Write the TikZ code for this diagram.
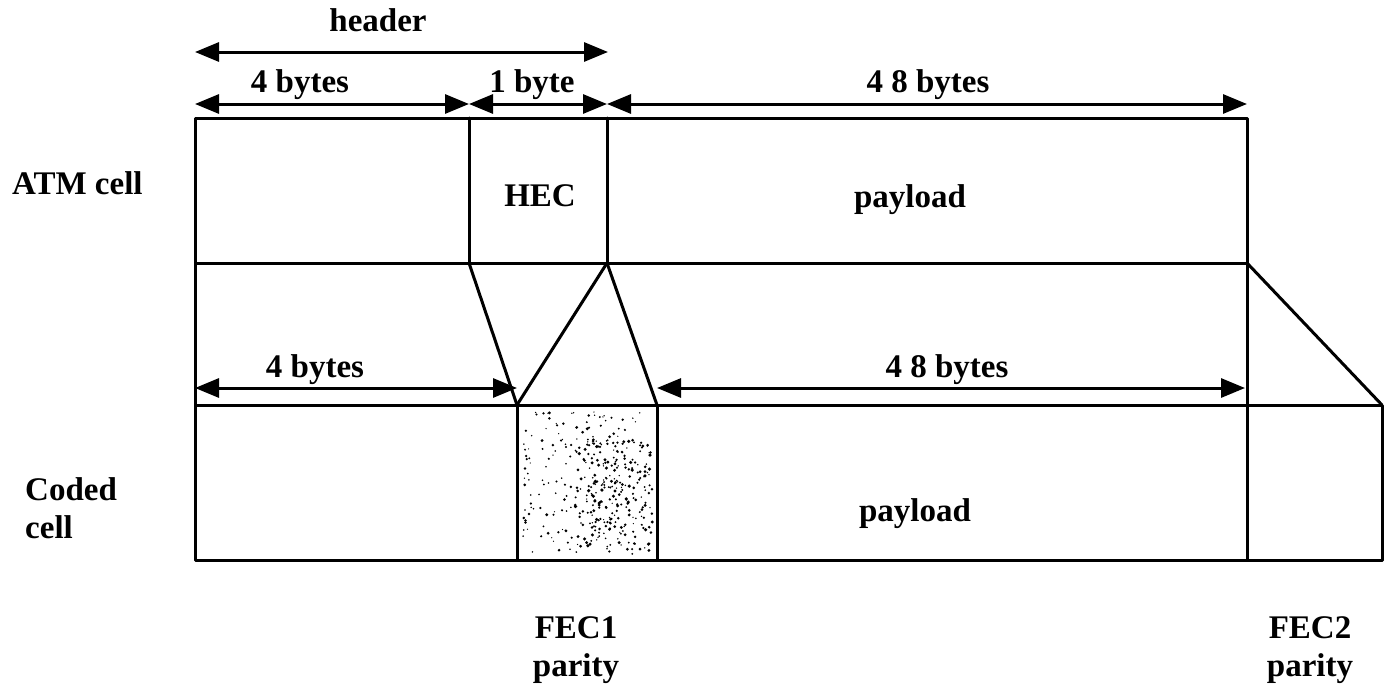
\documentclass[tikz,border=0pt]{standalone}
\usepackage{fontspec}
\setmainfont{Liberation Serif}
\usetikzlibrary{arrows.meta}
\begin{document}
\begin{tikzpicture}[x=1pt,y=-1pt,
  lbl/.style={font=\fontsize{33}{38}\selectfont\bfseries, inner sep=0pt},
  frame/.style={line width=3pt, line cap=round, line join=round},
  dimline/.style={line width=3pt, {Triangle[length=24pt,width=19pt]}-{Triangle[length=24pt,width=19pt]}},
]
\useasboundingbox (0,0) rectangle (1386,696);
% geometry
\coordinate (tl) at (195,118);
\coordinate (tr) at (1247,118);
\coordinate (ml) at (195,263);
\coordinate (mr) at (1247,263);
\coordinate (d1t) at (469,118);
\coordinate (d1b) at (469,263);
\coordinate (d2t) at (607,118);
\coordinate (d2b) at (607,263);
\coordinate (bl) at (195,405);
\coordinate (br) at (1382,405);
\coordinate (bbl) at (195,560);
\coordinate (bbr) at (1382,560);
\coordinate (e1t) at (517,405);
\coordinate (e1b) at (517,560);
\coordinate (e2t) at (657,405);
\coordinate (e2b) at (657,560);
\coordinate (e3t) at (1247,405);
\coordinate (e3b) at (1247,560);
% stipple in FEC1 parity
\pgfmathsetseed{11}
\foreach \i in {1,...,200}{
  \pgfmathsetmacro\px{523+128*rnd}
  \pgfmathsetmacro\py{412+142*rnd}
  \pgfmathsetmacro\rr{0.6+1.0*rnd}
  \fill (\px,\py) circle (\rr pt);
}
\foreach \i in {1,...,200}{
  \pgfmathsetmacro\px{575+78*rnd}
  \pgfmathsetmacro\py{440+110*rnd}
  \pgfmathsetmacro\rr{0.7+1.1*rnd}
  \fill (\px,\py) circle (\rr pt);
}
% ATM cell
\draw[frame] (tl) -- (tr) -- (mr) -- (ml) -- cycle;
\draw[frame] (d1t) -- (d1b);
\draw[frame] (d2t) -- (d2b);
% connecting band
\draw[frame] (ml) -- (bl);
\draw[frame] (mr) -- (e3t);
\draw[frame] (d1b) -- (e1t);
\draw[frame] (d2b) -- (e1t);
\draw[frame] (d2b) -- (e2t);
\draw[frame] (mr) -- (br);
% coded cell
\draw[frame] (bl) -- (br) -- (bbr) -- (bbl) -- cycle;
\draw[frame] (e1t) -- (e1b);
\draw[frame] (e2t) -- (e2b);
\draw[frame] (e3t) -- (e3b);
% dimension arrows
\coordinate (h0) at (195,52);
\coordinate (h1) at (608,52);
\coordinate (r0) at (195,104);
\coordinate (r1) at (469,104);
\coordinate (r2) at (607,104);
\coordinate (r3) at (1247,104);
\coordinate (m0) at (195,388);
\coordinate (m1) at (517,388);
\coordinate (m2) at (657,388);
\coordinate (m3) at (1245,388);
\draw[dimline] (h0) -- (h1);
\draw[dimline] (r0) -- (r1);
\draw[dimline] (r1) -- (r2);
\draw[dimline] (r2) -- (r3);
\draw[dimline] (m0) -- (m1);
\draw[dimline] (m2) -- (m3);
% labels
\node[lbl] (header) at (378,20) {header};
\node[lbl] (b4) at (300,85) {4 bytes};
\node[lbl] (b1) at (532,85) {1 byte};
\node[lbl] (b48) at (928,85) {4 8 bytes};
\node[lbl] (mb4) at (315,370) {4 bytes};
\node[lbl] (mb48) at (947,370) {4 8 bytes};
\node[lbl, anchor=west] (atm) at (12,183) {ATM cell};
\node[lbl] (hec) at (540,196) {HEC};
\node[lbl] (pl1) at (910,200) {payload};
\node[lbl] (pl2) at (915,514) {payload};
\node[lbl, anchor=west, align=left] (coded) at (25,508) {Coded\\cell};
\node[lbl, align=center] (fec1) at (576,650) {FEC1\\parity};
\node[lbl, align=center] (fec2) at (1310,650) {FEC2\\parity};
\end{tikzpicture}
\end{document}
